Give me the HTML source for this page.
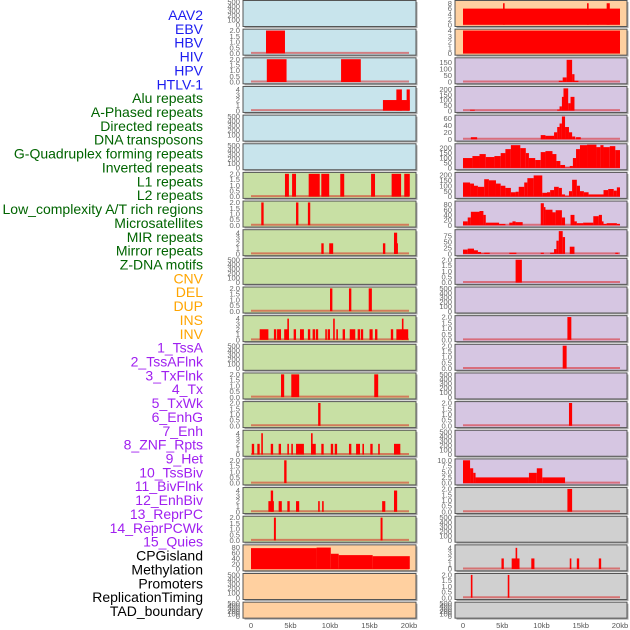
<!DOCTYPE html>
<html><head><meta charset="utf-8"><style>
html,body{margin:0;padding:0;background:#fff;}
svg{display:block;font-family:"Liberation Sans",sans-serif;}
</style></head><body>
<svg id="chart" width="630" height="630" viewBox="0 0 630 630" xmlns="http://www.w3.org/2000/svg">
<g id="labels"></g>
<g id="panels"></g>
<g id="xaxis"></g>
</svg>
<script>
const trackNames = ["AAV2","EBV","HBV","HIV","HPV","HTLV-1","Alu repeats","A-Phased repeats","Directed repeats","DNA transposons","G-Quadruplex forming repeats","Inverted repeats","L1 repeats","L2 repeats","Low_complexity A/T rich regions","Microsatellites","MIR repeats","Mirror repeats","Z-DNA motifs","CNV","DEL","DUP","INS","INV","1_TssA","2_TssAFlnk","3_TxFlnk","4_Tx","5_TxWk","6_EnhG","7_Enh","8_ZNF_Rpts","9_Het","10_TssBiv","11_BivFlnk","12_EnhBiv","13_ReprPC","14_ReprPCWk","15_Quies","CPGisland","Methylation","Promoters","ReplicationTiming","TAD_boundary"];
const trackGroups = [0,0,0,0,0,0,1,1,1,1,1,1,1,1,1,1,1,1,1,2,2,2,2,2,3,3,3,3,3,3,3,3,3,3,3,3,3,3,3,4,4,4,4,4];
const xTickLabels = ["0","5kb","10kb","15kb","20kb"];
const xTickValues = [0,5,10,15,20];

const T500 = ["0","100","200","300","400","500"];
const T2 = ["0.0","0.5","1.0","1.5","2.0"];
const T4 = ["0","1","2","3","4"];

// Left column (tracks 0-21)
const leftYmax = [500,2,2,4.3,500,500,2,2,4.3,500,2,4.3,500,2,2,4.3,2,4.3,2,85,500,500];
const leftTicks = [T500,T2,T2,T4,T500,T500,T2,T2,T4,T500,T2,T4,T500,T2,T2,T4,T2,T4,T2,["0","20","40","60","80"],T500,T500];
const leftSegs = [
 [],
 [[1.9,4.3,2]],
 [[2.0,4.5,2],[11.4,13.9,2]],
 [[16.7,20.1,2],[18.4,19.1,4],[19.7,20.1,4]],
 [],[],
 [[4.3,4.8,2],[5.2,5.7,2],[7.3,8.7,2],[8.9,9.9,2],[11.3,11.8,2],[15.2,15.7,2],[17.8,19.0,2],[19.4,20.1,2]],
 [[1.3,1.6,2],[5.7,6.0,2],[7.2,7.5,2]],
 [[8.9,9.2,2],[9.9,10.4,2],[16.7,17.0,2],[18.1,18.6,2],[18.1,18.5,4]],
 [],
 [[10.0,10.3,2],[12.4,12.7,2],[14.9,15.3,2]],
 [[1.1,2.2,2],[2.9,3.2,2],[3.3,3.8,2],[4.2,4.8,2],[4.6,4.8,4],[5.4,5.7,2],[6.2,6.7,2],[7.2,7.5,2],[7.8,8.1,2],[8.2,8.5,2],[9.4,9.6,2],[9.7,10.0,2],[10.4,10.6,4],[10.8,11.0,2],[11.6,11.9,2],[12.5,13.2,2],[13.5,13.8,2],[13.9,14.2,2],[15.0,15.4,2],[15.7,16.0,2],[17.7,18.0,2],[18.4,19.9,2],[19.1,19.3,4]],
 [],
 [[3.8,4.2,2],[5.1,6.1,2],[15.6,16.1,2]],
 [[8.5,8.8,2]],
 [[0.1,0.4,2],[0.8,1.1,2],[1.3,1.45,4],[2.5,2.8,2],[3.5,3.8,2],[4.6,4.8,2],[5.1,5.3,2],[5.7,6.7,2],[7.6,8.2,2],[7.6,7.8,4],[8.9,9.2,2],[10.1,10.4,2],[10.6,10.9,2],[12.4,12.7,2],[13.3,13.8,2],[14.1,14.3,2],[15.1,15.4,2],[16.1,16.3,2],[18.1,18.9,2]],
 [[4.2,4.5,2]],
 [[2.2,2.9,2],[2.5,2.8,4],[3.5,3.9,2],[4.6,4.9,2],[5.7,6.1,2],[8.5,8.7,2],[9.0,9.2,2],[16.6,17.0,2],[18.1,18.5,4]],
 [[2.9,3.15,2],[16.4,16.65,2]],
 [],[],[]
];
const leftProfileRow = 19;
const leftProfileX = [0,8.3,10.1,11.1,15.4,20.1];
const leftProfileV = [78,80,57,52,48];

// Right column (tracks 22-43)
const rightYmax = [8.5,4,175,215,65,230,210,88,95,2,500,2,2,500,2,500,10,2,500,4.3,2,500];
const rightTicks = [["0","2","4","6","8"],T4,["0","50","100","150"],["0","50","100","150","200"],["0","20","40","60"],["0","50","100","150","200"],["0","50","100","150","200"],["0","20","40","60","80"],["0","25","50","75"],T2,T500,T2,T2,T500,T2,T500,["0.0","2.5","5.0","7.5","10.0"],T2,T500,T4,T2,T500];
const rightSegs = [
 [[0,20,6],[5.1,5.3,8],[15.8,16.0,8],[18.3,18.7,8]],
 [[0,20,4]],
 [],
 [[0.9,1.5,8]],
 [[1.0,1.8,6],[14.4,15.0,6]],
 [],[],[],[],
 [[6.7,7.5,2]],
 [],
 [[13.3,13.8,2]],
 [[12.7,13.2,2]],
 [],
 [[13.5,13.9,2]],
 [],
 [],
 [[13.3,13.9,2]],
 [],
 [[4.9,5.2,2],[6.2,7.2,2],[6.7,6.9,4],[8.7,9.1,2],[13.6,13.8,2],[14.5,14.8,2],[17.3,17.6,2]],
 [[1.0,1.2,2],[5.7,5.9,2]],
 []
];
const rp2X = [12.2,12.7,13.2,13.9,14.2,14.7];
const rp2V = [10,35,170,60,10];
const rp3X = [12.0,12.3,12.6,12.8,13.4,13.7,14.2];
const rp3V = [10,40,130,210,70,130];
const rp4X = [9.9,10.5,11.6,12.0,12.3,12.6,13.0,13.5,13.9,14.3];
const rp4V = [12,10,20,35,45,65,35,20,8];
const rp5X = [0,1.2,2.1,2.9,4.0,4.8,5.4,6.1,7.3,8.0,8.4,9.2,9.9,10.5,11.4,11.9,12.4,13.0,13.6,14.0,14.4,14.9,15.8,17.0,17.5,17.9,18.7,19.4,20];
const rp5V = [100,120,140,110,120,150,190,230,200,150,100,80,160,170,140,70,30,5,20,100,190,230,240,210,230,210,220,180];
const rp6X = [0,0.9,1.4,1.9,2.7,3.3,4.2,4.8,5.4,6.1,6.7,7.1,7.8,8.2,9.0,10.1,10.7,11.1,11.6,12.2,12.6,13.0,13.5,13.9,14.5,14.9,15.4,16.0,17.9,18.5,19.2,19.6,20];
const rp6V = [130,120,100,90,160,150,120,100,80,40,45,90,130,170,195,35,40,60,90,80,20,5,50,155,100,50,40,20,60,70,55,85];
const rp7X = [0,0.6,1.0,2.1,2.6,2.9,4.6,5.4,5.9,6.3,6.7,7.6,9.9,10.3,10.5,11.4,11.8,12.6,13.0,13.7,14.2,14.5,15.3,16.6,17.3,17.7,17.9,18.3,19.6,20];
const rp7V = [15,30,52,55,40,10,5,0,10,15,12,0,85,70,60,50,58,30,0,40,15,8,10,35,40,15,5,8,5];
const rp8X = [0,0.6,1.4,1.9,2.3,2.7,3.4,5.9,6.8,9.9,10.3,11.1,11.6,11.9,12.2,12.7,13.0,13.6,14.2,19.4,19.8,20];
const rp8V = [18,22,15,8,2,5,0,5,0,5,0,5,20,55,95,70,0,30,0,5,0];
const rp16X = [0,0.9,1.3,1.6,8.4,9.4,10.1,13.0];
const rp16V = [10,6.5,4.5,2.5,4.5,6.5,2.5];
const rightProfiles = {2:[rp2X,rp2V],3:[rp3X,rp3V],4:[rp4X,rp4V],5:[rp5X,rp5V],6:[rp6X,rp6V],7:[rp7X,rp7V],8:[rp8X,rp8V],16:[rp16X,rp16V]};

const NS = "http://www.w3.org/2000/svg";
const groupColors = ["#1c1cf0","#006400","#ffa500","#a020f0","#000000"];
const leftBg = i => i < 6 ? "#c8e4ec" : (i < 19 ? "#c8e0a4" : "#ffd0a0");
const rightBg = i => i < 2 ? "#ffd0a0" : (i < 17 ? "#d6c6e2" : "#d0d0d0");

function mk(tag, attrs, parent){ const e=document.createElementNS(NS,tag); for(const k in attrs) e.setAttribute(k,attrs[k]); parent.appendChild(e); return e; }
function profToSegs(xs, vs){ const s=[]; for(let i=0;i<vs.length;i++) s.push([xs[i],xs[i+1],vs[i]]); return s; }

// labels
const lg = document.getElementById('labels');
trackNames.forEach((n,i)=>{
  const t = mk('text',{x:203,y:15+i*13.86+5,'text-anchor':'end','font-size':14,fill:groupColors[trackGroups[i]]},lg);
  t.textContent = n;
  
  
});

const pg = document.getElementById('panels');
function drawPanel(col, i, ymax, ticks, segs, bg){
  const px = col===0 ? 243 : 455, pw = col===0 ? 173 : 172;
  const x0 = col===0 ? 251 : 463, kx = col===0 ? 7.9 : 7.85;
  const xs = kb => x0 + kb*kx;
  const top = 0.5 + i*28.65, h = (i===21) ? 16 : 26;
  const yb = top + h - 1.8, yr = h - 3.2;
  const ys = v => yb - Math.min(v/ymax,1.02)*yr;
  const g = mk('g',{},pg);
  
  
  mk('rect',{x:px+1.5,y:top+1.5,width:pw,height:h,fill:'#a8a8a8'},g);
  mk('rect',{x:px,y:top,width:pw,height:h,fill:bg,stroke:'#555','stroke-width':1},g);
  if (segs.length){
    const bl = mk('line',{x1:xs(0),x2:xs(20),y1:yb-0.5,y2:yb-0.5,stroke:'rgba(220,0,0,0.45)','stroke-width':2},g);
    
    
  }
  segs.forEach(s=>{
    if (s[2] <= 0) return;
    const y = ys(s[2]);
    const r = mk('rect',{x:xs(s[0]),y:y,width:Math.max(xs(s[1])-xs(s[0]),1.6),height:yb-y,fill:'#ff0000'},g);
    
    
  });
  ticks.forEach((lab,k)=>{
    const v = ymax===500 ? k*100 : parseFloat(lab);
    const t = mk('text',{x:px-3,y:ys(v)+2.6,'text-anchor':'end','font-size':7.6,fill:'#666'},g);
    t.textContent = lab;
    
    
  });
}
for (let i=0;i<22;i++){
  let segs = leftSegs[i];
  if (i===leftProfileRow) segs = profToSegs(leftProfileX, leftProfileV);
  drawPanel(0,i,leftYmax[i],leftTicks[i],segs,leftBg(i));
}
for (let i=0;i<22;i++){
  let segs = rightSegs[i].slice();
  if (rightProfiles[i]) segs = segs.concat(profToSegs(rightProfiles[i][0], rightProfiles[i][1]));
  drawPanel(1,i,rightYmax[i],rightTicks[i],segs,rightBg(i));
}

const xg = document.getElementById('xaxis');
[[251,7.9],[463,7.85]].forEach(c=>{
  xTickValues.forEach((v,k)=>{
    const t = mk('text',{x:c[0]+v*c[1],y:628,'text-anchor':'middle','font-size':7.6,fill:'#555'},xg);
    t.textContent = xTickLabels[k];
    
    
  });
});
</script>
</body></html>
